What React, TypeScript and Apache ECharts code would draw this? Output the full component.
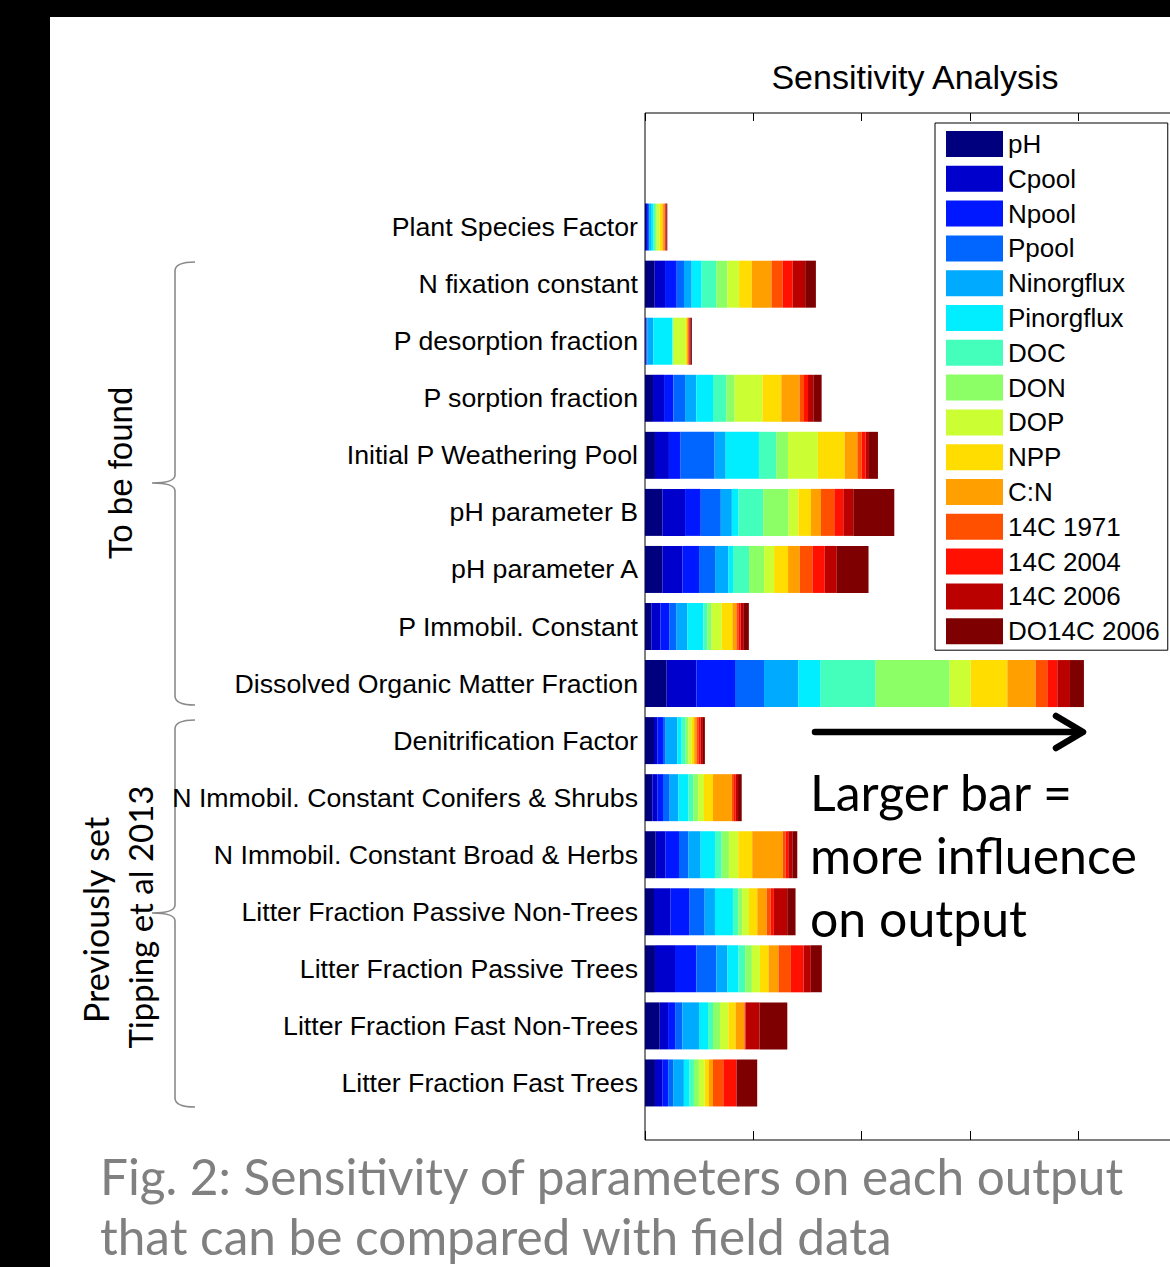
import React, { useEffect, useRef } from "react";
import * as echarts from "echarts";

const outputs = ["pH", "Cpool", "Npool", "Ppool", "Ninorgflux", "Pinorgflux", "DOC", "DON", "DOP", "NPP", "C:N", "14C 1971", "14C 2004", "14C 2006", "DO14C 2006"];
const colors = ["#00007f", "#0000cc", "#0018ff", "#0066ff", "#00aaff", "#00eeff", "#44ffbb", "#8cff66", "#ccff33", "#ffdd00", "#ff9f00", "#ff5000", "#ff1000", "#bb0000", "#7f0000"];

const parameters = [
  "Plant Species Factor",
  "N fixation constant",
  "P desorption fraction",
  "P sorption fraction",
  "Initial P Weathering Pool",
  "pH parameter B",
  "pH parameter A",
  "P Immobil. Constant",
  "Dissolved Organic Matter Fraction",
  "Denitrification Factor",
  "N Immobil. Constant Conifers & Shrubs",
  "N Immobil. Constant Broad & Herbs",
  "Litter Fraction Passive Non-Trees",
  "Litter Fraction Passive Trees",
  "Litter Fraction Fast Non-Trees",
  "Litter Fraction Fast Trees",
];

// sensitivity per output (same order as `outputs`)
const plantSpeciesFactor = [0.09, 0.09, 0.09, 0.12, 0.16, 0.25, 0.12, 0.16, 0.28, 0.25, 0.18, 0.06, 0.06, 0.06, 0.09];
const nFixationConstant = [0.9, 0.95, 1.08, 0.67, 0.71, 0.92, 1.36, 1.02, 1.08, 1.17, 1.82, 1.02, 0.92, 1.17, 0.99];
const pDesorptionFraction = [0.05, 0.05, 0.05, 0.09, 0.53, 1.75, 0.05, 0.09, 1.11, 0.12, 0.09, 0.06, 0.06, 0.09, 0.14];
const pSorptionFraction = [0.74, 1.02, 0.86, 1.08, 1.04, 1.54, 1.23, 0.77, 2.56, 1.75, 1.69, 0.4, 0.37, 0.49, 0.77];
const initialPWeatheringPool = [0.92, 1.29, 1.08, 3.14, 1.02, 3.07, 1.6, 1.08, 2.77, 2.47, 1.17, 0.4, 0.37, 0.3, 0.83];
const phParameterB = [1.6, 2.1, 1.45, 1.85, 1.02, 0.62, 2.28, 2.34, 0.9, 1.17, 0.92, 1.23, 0.83, 0.92, 3.79];
const phParameterA = [1.6, 1.85, 1.54, 1.48, 1.23, 0.43, 1.48, 1.39, 0.92, 1.29, 1.08, 1.17, 1.14, 1.11, 2.93];
const pImmobilConstant = [0.58, 0.86, 0.83, 0.65, 0.99, 1.48, 0.37, 0.4, 0.92, 0.99, 0.37, 0.18, 0.21, 0.3, 0.46];
const domFraction = [2.0, 2.74, 3.57, 2.68, 3.17, 2.06, 5.08, 6.83, 1.94, 3.39, 2.61, 1.08, 0.92, 1.17, 1.29];
const denitrificationFactor = [0.83, 0.3, 0.53, 0.25, 1.08, 0.4, 0.37, 0.25, 0.28, 0.25, 0.21, 0.18, 0.21, 0.21, 0.18];
const nImmobilConifersShrubs = [0.67, 0.46, 0.53, 0.62, 0.8, 0.92, 0.46, 0.46, 0.53, 0.83, 1.73, 0.21, 0.16, 0.21, 0.34];
const nImmobilBroadHerbs = [0.99, 0.92, 1.23, 0.86, 1.14, 1.32, 0.62, 0.67, 0.86, 1.29, 2.83, 0.25, 0.25, 0.37, 0.46];
const litterPassiveNonTrees = [0.83, 1.54, 1.75, 1.39, 0.95, 1.66, 0.49, 0.37, 0.62, 0.77, 0.86, 0.37, 0.3, 1.23, 0.77];
const litterPassiveTrees = [0.92, 1.85, 1.97, 1.85, 1.02, 1.02, 0.62, 0.62, 0.74, 0.8, 0.92, 1.14, 1.17, 0.67, 1.02];
const litterFastNonTrees = [1.36, 0.77, 0.65, 0.67, 1.54, 0.83, 0.46, 0.65, 0.77, 0.67, 0.8, 0.06, 0.06, 1.29, 2.56];
const litterFastTrees = [0.92, 0.67, 0.55, 0.46, 0.99, 0.53, 0.4, 0.46, 0.53, 0.4, 0.37, 0.95, 1.2, 0.06, 1.87];

const rows = [
  plantSpeciesFactor, nFixationConstant, pDesorptionFraction, pSorptionFraction,
  initialPWeatheringPool, phParameterB, phParameterA, pImmobilConstant, domFraction,
  denitrificationFactor, nImmobilConifersShrubs, nImmobilBroadHerbs,
  litterPassiveNonTrees, litterPassiveTrees, litterFastNonTrees, litterFastTrees,
];

const xTickInterval = 10;
const xMax = 55;

echarts.graphic.registerShape(
  "braceTop",
  echarts.graphic.extendPath("M195 262 Q175 262 175 271 L175 475 Q175 483 152 483 Q175 483 175 491 L175 696 Q175 705 195 705", {})
);
echarts.graphic.registerShape(
  "braceBottom",
  echarts.graphic.extendPath("M195 720 Q175 720 175 729 L175 905 Q175 913 152 913 Q175 913 175 921 L175 1098 Q175 1107 195 1107", {})
);

export default function App() {
  const ref = useRef<HTMLDivElement>(null);
  useEffect(() => {
    if (!ref.current) return;
    const chart = echarts.init(ref.current, null, { renderer: "svg" });
    const cats = ["", "", ...parameters, ""];
    const unit = 1027 / 18;
    const plotLeft = 645;
    const plotWidth = xMax * 10.83;
    const arial = "'Liberation Sans', Arial, sans-serif";
    const lato = "Lato, 'Open Sans', sans-serif";
    const series = outputs.map((name, k) => ({
      name,
      type: "bar",
      stack: "total",
      xAxisIndex: 0,
      yAxisIndex: 0,
      barWidth: 47,
      itemStyle: { color: colors[k] },
      emphasis: { disabled: true },
      data: [null, null, ...rows.map((r) => r[k]), null],
    }));
    chart.setOption({
      animation: false,
      title: {
        text: "Sensitivity Analysis",
        left: 915,
        top: 60,
        textAlign: "center",
        padding: 0,
        textStyle: { fontFamily: arial, fontSize: 34, fontWeight: "normal", color: "#000" },
      },
      legend: {
        orient: "vertical",
        left: 935,
        top: 123,
        padding: [8, 8, 6, 11],
        itemWidth: 57,
        itemHeight: 26,
        itemGap: 8.8,
        icon: "rect",
        selectedMode: false,
        borderColor: "#000",
        borderWidth: 1,
        backgroundColor: "#fff",
        textStyle: { fontFamily: arial, fontSize: 26, color: "#000" },
        data: outputs,
        z: 10,
      },
      grid: [
        { left: plotLeft, width: plotWidth, top: 113 - unit / 2, height: unit * 19, containLabel: false },
        { left: plotLeft, width: plotWidth, top: 113, height: 1027, show: true, borderColor: "#000", borderWidth: 1, backgroundColor: "transparent" },
      ],
      xAxis: [
        { type: "value", gridIndex: 0, min: 0, max: xMax, interval: xTickInterval, show: false },
        {
          type: "value", gridIndex: 1, position: "bottom", min: 0, max: xMax, interval: xTickInterval,
          axisLine: { show: false }, axisLabel: { show: false }, splitLine: { show: false },
          axisTick: { show: true, inside: true, length: 9, lineStyle: { color: "#000", width: 1 } },
        },
        {
          type: "value", gridIndex: 1, position: "top", min: 0, max: xMax, interval: xTickInterval,
          axisLine: { show: false }, axisLabel: { show: false }, splitLine: { show: false },
          axisTick: { show: true, inside: true, length: 8, lineStyle: { color: "#000", width: 1 } },
        },
      ],
      yAxis: [
        {
          type: "category", gridIndex: 0, data: cats, inverse: true,
          axisLine: { show: false }, axisTick: { show: false }, splitLine: { show: false },
          axisLabel: { margin: 7, fontFamily: arial, fontSize: 26.7, color: "#000", interval: 0 },
        },
        { type: "value", gridIndex: 1, min: 0, max: 18, show: false },
      ],
      series,
      graphic: [
        { type: "braceTop", style: { stroke: "#8a8a8a", lineWidth: 1.6, fill: "none" } },
        { type: "braceBottom", style: { stroke: "#8a8a8a", lineWidth: 1.6, fill: "none" } },
        {
          type: "text", x: 120, y: 473, rotation: Math.PI / 2,
          style: { text: "To be found", font: `33px ${arial}`, fill: "#000", align: "center", verticalAlign: "middle" },
        },
        {
          type: "text", x: 95, y: 920, rotation: Math.PI / 2,
          style: { text: "Previously set", font: `34px ${lato}`, fill: "#000", align: "center", verticalAlign: "middle" },
        },
        {
          type: "text", x: 140, y: 917, rotation: Math.PI / 2,
          style: { text: "Tipping et al 2013", font: `33px ${lato}`, fill: "#000", align: "center", verticalAlign: "middle" },
        },
        {
          type: "line", shape: { x1: 815, y1: 732, x2: 1080, y2: 732 },
          style: { stroke: "#000", lineWidth: 6.5, lineCap: "round" },
        },
        {
          type: "polyline", shape: { points: [[1056, 716], [1083, 732], [1056, 748]] },
          style: { stroke: "#000", lineWidth: 6.5, lineCap: "round", lineJoin: "round", fill: "none" },
        },
        {
          type: "text", x: 810, y: 792,
          style: { text: "Larger bar =", font: `50px ${lato}`, fill: "#000", align: "left", verticalAlign: "middle" },
        },
        {
          type: "text", x: 810, y: 855,
          style: { text: "more influence", font: `50px ${lato}`, fill: "#000", align: "left", verticalAlign: "middle" },
        },
        {
          type: "text", x: 810, y: 918,
          style: { text: "on output", font: `50px ${lato}`, fill: "#000", align: "left", verticalAlign: "middle" },
        },
        {
          type: "text", x: 100, y: 1176,
          style: { text: "Fig. 2: Sensitivity of parameters on each output", font: `49.5px ${lato}`, fill: "#808080", align: "left", verticalAlign: "middle" },
        },
        {
          type: "text", x: 100, y: 1236,
          style: { text: "that can be compared with field data", font: `49.5px ${lato}`, fill: "#808080", align: "left", verticalAlign: "middle" },
        },
      ],
    });
    return () => chart.dispose();
  }, []);
  return (
    <div style={{ position: "fixed", left: 0, top: 0, width: 1170, height: 1267, overflow: "hidden", background: "#000" }}>
      <div style={{ position: "absolute", left: 50, top: 17, right: 0, bottom: 0, background: "#fff" }} />
      <div ref={ref} style={{ position: "absolute", left: 0, top: 0, width: 1300, height: 1267 }} />
    </div>
  );
}
